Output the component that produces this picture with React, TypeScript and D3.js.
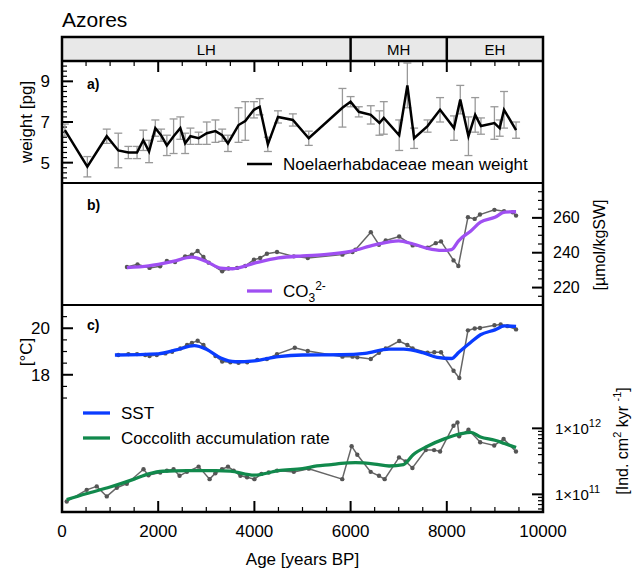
import * as d3 from 'd3'

// panel a: Noelaerhabdaceae mean weight [pg]
const weightAge = [60, 527, 930, 1170, 1380, 1560, 1690, 1810, 1940, 2060, 2180, 2320, 2460, 2560, 2670, 2840, 3010, 3190, 3330, 3450, 3670, 3810, 3990, 4110, 4280, 4490, 4800, 5130, 5830, 6000, 6170, 6420, 6600, 6690, 7010, 7180, 7320, 7600, 7860, 8150, 8280, 8450, 8590, 8710, 8990, 9100, 9190, 9440]
const weight = [6.6, 4.8, 6.3, 5.6, 5.5, 5.5, 6.1, 5.55, 6.7, 6.35, 5.85, 6.3, 6.7, 5.95, 6.3, 6.2, 6.45, 6.55, 6.35, 5.95, 6.85, 7.05, 7.6, 7.75, 5.9, 7.25, 7.1, 6.2, 7.7, 8.0, 7.5, 7.35, 6.95, 7.2, 6.35, 8.8, 6.2, 6.8, 7.6, 6.7, 8.1, 6.3, 7.35, 6.8, 6.95, 6.7, 7.6, 6.6]
const weightErr = [0.3, 0.5, 0.35, 0.85, 0.3, 0.3, 0.5, 0.55, 0.4, 0.3, 0.5, 0.85, 0.55, 0.5, 0.4, 0.3, 0.55, 0.55, 0.3, 0.4, 0.85, 0.95, 0.4, 0.4, 0.35, 0.3, 0.3, 0.35, 0.95, 0.25, 0.25, 0.45, 0.6, 0.8, 0.75, 1.1, 0.5, 0.3, 0.6, 0.6, 0.7, 0.95, 0.85, 0.4, 0.8, 0.4, 0.9, 0.4]

// panel b: carbonate ion [umol/kgSW]
const co3Age = [1350, 1570, 1820, 2040, 2180, 2350, 2560, 2700, 2820, 2940, 3050, 3330, 3460, 3640, 3810, 3990, 4120, 4260, 4470, 4820, 5110, 5830, 6040, 6100, 6420, 6590, 6730, 7010, 7290, 7600, 7770, 7880, 8140, 8240, 8440, 8580, 8690, 8990, 9190, 9370, 9440]
const co3 = [231.8, 233.3, 231.3, 232.2, 235.3, 234.7, 237.9, 238.9, 241, 237.5, 234.3, 229.3, 230.9, 231.3, 232.4, 236, 237, 239.4, 240.4, 237.9, 237, 238.9, 240.4, 241.7, 251.8, 244.6, 247, 249.3, 244.2, 242.9, 245.5, 246.5, 235.6, 232.4, 260.4, 259.4, 261.9, 264.6, 263.8, 263.2, 261.3]
const co3SmoothAge = [1350, 1800, 2300, 2700, 3000, 3300, 3550, 4000, 4500, 5000, 5500, 6000, 6500, 7000, 7300, 7600, 7900, 8100, 8250, 8500, 8700, 9000, 9200, 9440]
const co3Smooth = [231.5, 232.5, 235, 237.5, 235, 231.2, 230.8, 234, 237, 238.2, 239, 240.8, 244.5, 246.8, 245, 242.5, 241.3, 241.8, 247, 252.5, 257.5, 260.3, 263.3, 263.5]

// panel c: SST [°C]
const sstAge = [1170, 1380, 1560, 1730, 1820, 1970, 2150, 2290, 2460, 2600, 2700, 2820, 2940, 3190, 3330, 3500, 3670, 3850, 4060, 4260, 4470, 4840, 5110, 5830, 6040, 6140, 6420, 6590, 6730, 7010, 7180, 7290, 7600, 7740, 7880, 8140, 8260, 8440, 8580, 8690, 8990, 9120, 9260, 9440]
const sst = [18.85, 18.89, 18.89, 18.85, 18.81, 18.85, 18.92, 18.99, 19.13, 19.28, 19.37, 19.46, 19.28, 18.81, 18.57, 18.54, 18.52, 18.54, 18.64, 18.68, 18.89, 19.16, 19.02, 18.78, 18.78, 18.75, 18.68, 18.95, 19.13, 19.45, 19.28, 19.13, 18.95, 18.97, 18.97, 18.17, 17.86, 19.91, 19.99, 20.01, 20.13, 20.16, 20.09, 19.95]
const sstSmoothAge = [1100, 2000, 2400, 2750, 3000, 3300, 3600, 4000, 4500, 5000, 5800, 6300, 6800, 7100, 7500, 7800, 8100, 8250, 8500, 8700, 9000, 9200, 9440]
const sstSmooth = [18.85, 18.9, 19.08, 19.25, 19.1, 18.72, 18.56, 18.6, 18.78, 18.85, 18.86, 18.92, 19.1, 19.1, 18.95, 18.75, 18.7, 18.97, 19.4, 19.72, 19.93, 20.1, 20.08]

// panel c: coccolith accumulation rate [x1e11 Ind. cm-2 kyr-1]
const carAge = [98, 514, 722, 931, 1140, 1348, 1694, 1798, 2042, 2181, 2319, 2444, 2597, 2840, 3069, 3188, 3327, 3451, 3569, 3708, 3847, 4000, 4146, 4298, 4472, 4819, 5132, 5826, 6021, 6139, 6417, 6590, 6708, 7007, 7146, 7285, 7563, 7736, 7860, 8139, 8222, 8257, 8451, 8694, 8986, 9181, 9438]
const car = [0.78, 1.17, 1.32, 0.93, 1.26, 1.45, 2.4, 1.95, 2.14, 2.29, 2.4, 1.91, 2.19, 2.63, 1.7, 2.09, 2.4, 2.63, 2.29, 1.91, 1.82, 1.7, 2.04, 2.14, 2.29, 2.19, 2.45, 1.7, 5.37, 3.98, 2.19, 1.91, 1.7, 3.63, 3.16, 2.51, 4.68, 4.68, 4.47, 10.96, 12.3, 7.59, 9.55, 6.17, 5.5, 6.92, 4.47]
const carSmoothAge = [98, 500, 1000, 1500, 1800, 2100, 2600, 3200, 3500, 4000, 4500, 5000, 5300, 5600, 5800, 6100, 6500, 6800, 7100, 7300, 7600, 7950, 8300, 8500, 8700, 9000, 9200, 9440]
const carSmooth = [0.83, 1.02, 1.29, 1.7, 2.04, 2.24, 2.29, 2.29, 2.24, 1.95, 2.29, 2.45, 2.69, 2.82, 2.95, 3.02, 2.88, 2.69, 2.82, 3.98, 5.37, 6.92, 8.32, 8.71, 7.41, 6.61, 5.89, 5.13]

const periods = ['LH', 'MH', 'EH']
const periodBounds = [0, 6000, 8000, 10000]

const weightTicks = [5, 7, 9]
const co3Ticks = [220, 240, 260]
const sstTicks = [18, 20]
const carTicks = [1, 10]
const carTickExp = ['11', '12']
const ageTicks = [0, 2000, 4000, 6000, 8000, 10000]

const W = 633
const H = 570
const FONT = '"Liberation Sans", Arial, Helvetica, sans-serif'
const PURPLE = '#9f4ff2'
const BLUE = '#0a3cff'
const GREEN = '#11894c'
const GRAY = '#666'

// layout
const left = 62
const right = 543
const headTop = 37
const aTop = 61
const bTop = 183
const cTop = 305
const bottom = 512

type Pt = [number, number]
const zip = (a: number[], b: number[]): Pt[] => a.map((v, i) => [v, b[i]])

export default function App() {
  const x = d3.scaleLinear().domain([0, 10000]).range([left, right])
  const yW = d3.scaleLinear().domain([4, 10]).range([bTop, aTop])
  const yC = d3.scaleLinear().domain([210, 280]).range([cTop, bTop])
  const yS = d3.scaleLinear().domain([12.1, 21]).range([bottom, cTop])
  const yA = d3.scaleLog().domain([0.54, 740]).range([bottom, cTop])

  const lineOf = (ys: (v: number) => number, curve = d3.curveLinear) =>
    d3.line<Pt>().x((d) => x(d[0])).y((d) => ys(d[1])).curve(curve)

  const wData = zip(weightAge, weight)
  const co3Data = zip(co3Age, co3)
  const sstData = zip(sstAge, sst)
  const carData = zip(carAge, car)

  const xMinor = d3.range(0, 10001, 500)
  const wMinor = d3.range(4.25, 9.8, 0.25)
  const cMinor = d3.range(215, 281, 5)
  const sMinor = d3.range(17, 20.6, 0.5)
  const aMinor = [0.6, 0.7, 0.8, 0.9, 2, 3, 4, 5, 6, 7, 8, 9]

  const grayPts = (data: Pt[], ys: (v: number) => number, key: string) => (
    <g key={key}>
      <path d={lineOf(ys)(data) || ''} fill="none" stroke={GRAY} strokeWidth={1.5} />
      {data.map((d, i) => (
        <circle key={i} cx={x(d[0])} cy={ys(d[1])} r={2.2} fill="#555" />
      ))}
    </g>
  )

  return (
    <svg width={W} height={H} style={{ position: 'absolute', left: 0, top: 0 }} fontFamily={FONT}>
      <text x={left} y={27} fontSize={21}>Azores</text>

      {/* period header */}
      <rect x={left} y={headTop} width={right - left} height={aTop - headTop} fill="#e8e8e8" />
      {periods.map((p, i) => (
        <text key={p} x={(x(periodBounds[i]) + x(periodBounds[i + 1])) / 2} y={55} fontSize={15} textAnchor="middle">{p}</text>
      ))}
      {periodBounds.slice(1, 3).map((b) => (
        <line key={b} x1={x(b)} x2={x(b)} y1={headTop} y2={aTop} stroke="black" strokeWidth={2.5} />
      ))}

      {/* x ticks on top of panel a and bottom of panel c */}
      {xMinor.map((t) => {
        const len = t % 2000 === 0 ? 11 : 5
        return (
          <g key={t}>
            <line x1={x(t)} x2={x(t)} y1={aTop} y2={aTop + len} stroke="black" strokeWidth={t % 2000 === 0 ? 2 : 1.2} />
            <line x1={x(t)} x2={x(t)} y1={bottom} y2={bottom - len} stroke="black" strokeWidth={t % 2000 === 0 ? 2 : 1.2} />
          </g>
        )
      })}
      {ageTicks.map((t) => (
        <text key={t} x={x(t)} y={537} fontSize={17} textAnchor="middle">{t}</text>
      ))}
      <text x={(left + right) / 2} y={565} fontSize={17} textAnchor="middle">Age [years BP]</text>

      {/* panel a */}
      {wMinor.map((t) => {
        const major = weightTicks.some((m) => Math.abs(m - t) < 1e-6)
        return <line key={t} x1={left} x2={left + (major ? 11 : 5)} y1={yW(t)} y2={yW(t)} stroke="black" strokeWidth={major ? 2 : 1.2} />
      })}
      {weightTicks.map((t) => (
        <text key={t} x={50} y={yW(t)} dy="0.35em" fontSize={17} textAnchor="end">{t}</text>
      ))}
      <text transform={`translate(32,${(aTop + bTop) / 2}) rotate(-90)`} fontSize={17} textAnchor="middle">weight [pg]</text>
      <text x={87} y={89} fontSize={14} fontWeight="bold">a)</text>
      {wData.map((d, i) => {
        const cx = x(d[0])
        const lo = yW(d[1] - weightErr[i])
        const hi = Math.max(yW(d[1] + weightErr[i]), aTop)
        return (
          <g key={i} stroke="#999" strokeWidth={1.3}>
            <line x1={cx} x2={cx} y1={lo} y2={hi} />
            <line x1={cx - 4} x2={cx + 4} y1={lo} y2={lo} />
            {hi > aTop && <line x1={cx - 4} x2={cx + 4} y1={hi} y2={hi} />}
          </g>
        )
      })}
      <path d={lineOf(yW)(wData) || ''} fill="none" stroke="black" strokeWidth={2.5} />
      <line x1={247} x2={272} y1={164} y2={164} stroke="black" strokeWidth={2.5} />
      <text x={283} y={164} dy="0.35em" fontSize={17}>Noelaerhabdaceae mean weight</text>

      {/* panel b */}
      {cMinor.map((t) => {
        const major = co3Ticks.includes(t)
        return <line key={t} x1={right} x2={right - (major ? 11 : 5)} y1={yC(t)} y2={yC(t)} stroke="black" strokeWidth={major ? 2 : 1.2} />
      })}
      {co3Ticks.map((t) => (
        <text key={t} x={553} y={yC(t)} dy="0.35em" fontSize={16}>{t}</text>
      ))}
      <text transform={`translate(605,245) rotate(-90)`} fontSize={16} textAnchor="middle">[µmol/kgSW]</text>
      <text x={87} y={210} fontSize={14} fontWeight="bold">b)</text>
      {grayPts(co3Data, yC, 'co3')}
      <path d={lineOf(yC, d3.curveMonotoneX)(zip(co3SmoothAge, co3Smooth)) || ''} fill="none" stroke={PURPLE} strokeWidth={3.3} />
      <line x1={247} x2={272} y1={291} y2={291} stroke={PURPLE} strokeWidth={3.3} />
      <text x={283} y={291} dy="0.35em" fontSize={17}>
        CO<tspan fontSize={12} dy={5}>3</tspan><tspan fontSize={12} dy={-12}>2-</tspan>
      </text>

      {/* panel c: SST axis */}
      {sMinor.map((t) => {
        const major = sstTicks.includes(t)
        return <line key={t} x1={left} x2={left + (major ? 11 : 5)} y1={yS(t)} y2={yS(t)} stroke="black" strokeWidth={major ? 2 : 1.2} />
      })}
      {sstTicks.map((t) => (
        <text key={t} x={50} y={yS(t)} dy="0.35em" fontSize={17} textAnchor="end">{t}</text>
      ))}
      <text transform={`translate(32,352) rotate(-90)`} fontSize={17} textAnchor="middle">[°C]</text>
      <text x={87} y={330} fontSize={14} fontWeight="bold">c)</text>

      {/* panel c: accumulation rate axis (log) */}
      {[...aMinor, ...carTicks].map((t) => {
        const major = carTicks.includes(t)
        return <line key={t} x1={right} x2={right - (major ? 11 : 5)} y1={yA(t)} y2={yA(t)} stroke="black" strokeWidth={major ? 2 : 1.2} />
      })}
      {carTicks.map((t, i) => (
        <text key={t} x={555} y={yA(t)} dy="0.35em" fontSize={15}>
          1×10<tspan fontSize={11} dy={-7}>{carTickExp[i]}</tspan>
        </text>
      ))}
      <text transform={`translate(628,441) rotate(-90)`} fontSize={16} textAnchor="middle">
        [Ind. cm<tspan fontSize={11} dy={-7}>2</tspan><tspan dy={7}> kyr </tspan><tspan fontSize={11} dy={-7}>-1</tspan><tspan dy={7}>]</tspan>
      </text>

      {grayPts(sstData, yS, 'sst')}
      <path d={lineOf(yS, d3.curveMonotoneX)(zip(sstSmoothAge, sstSmooth)) || ''} fill="none" stroke={BLUE} strokeWidth={3.3} />
      {grayPts(carData, yA, 'car')}
      <path d={lineOf(yA, d3.curveMonotoneX)(zip(carSmoothAge, carSmooth)) || ''} fill="none" stroke={GREEN} strokeWidth={3.3} />

      <line x1={83} x2={110} y1={413} y2={413} stroke={BLUE} strokeWidth={3.3} />
      <text x={121} y={413} dy="0.35em" fontSize={17}>SST</text>
      <line x1={83} x2={110} y1={438} y2={438} stroke={GREEN} strokeWidth={3.3} />
      <text x={121} y={438} dy="0.35em" fontSize={17}>Coccolith accumulation rate</text>

      {/* frames */}
      <g fill="none" stroke="black" strokeWidth={2}>
        <rect x={left} y={headTop} width={right - left} height={bottom - headTop} strokeWidth={2.5} />
        <line x1={left} x2={right} y1={aTop} y2={aTop} strokeWidth={2.5} />
        <line x1={left} x2={right} y1={bTop} y2={bTop} />
        <line x1={left} x2={right} y1={cTop} y2={cTop} />
      </g>
    </svg>
  )
}
